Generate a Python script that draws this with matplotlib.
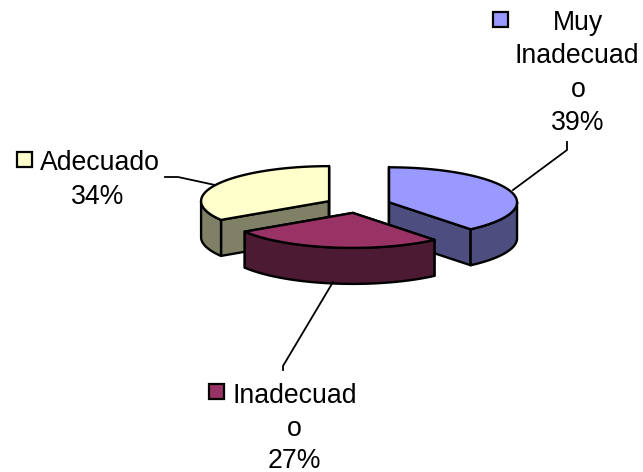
import numpy as np
import matplotlib
matplotlib.use("Agg")
from matplotlib import pyplot as plt
from matplotlib.patches import Polygon, Rectangle

labels = ["Muy Inadecuado", "Inadecuado", "Adecuado"]
values = [39, 27, 34]
top_colors = ["#9999FF", "#993366", "#FFFFCC"]
side_colors = ["#4D4D80", "#4D1A33", "#808066"]

# pie geometry, in pixels of the figure
cx, cy = 358, 205
rx, ry = 128, 35
depth = 36
ex, ey = 33, 8

plt.rcParams["font.family"] = ["Liberation Sans", "DejaVu Sans"]

fig = plt.figure(figsize=(6.43, 4.72), dpi=100)
ax = fig.add_axes([0, 0, 1, 1])
ax.set_xlim(0, 643)
ax.set_ylim(472, 0)
ax.axis("off")


def rim(x0, y0, a, b):
    # angles clockwise from 12 o'clock
    t = np.radians(np.linspace(a, b, 80))
    return np.column_stack([x0 + rx * np.sin(t), y0 - ry * np.cos(t)])


def draw_slice(a, b, top, side):
    mid = np.radians((a + b) / 2)
    x0 = cx + ex * np.sin(mid)
    y0 = cy - ey * np.cos(mid)
    lw = 1.7
    # the two cut walls
    for ang in (a, b):
        p = rim(x0, y0, ang, ang)[0]
        wall = [(x0, y0), p, (p[0], p[1] + depth), (x0, y0 + depth)]
        ax.add_patch(Polygon(wall, fc=side, ec="black", lw=lw, joinstyle="round"))
    # outer wall, only the part facing the viewer
    fa, fb = max(a, 90), min(b, 270)
    if fa < fb:
        r = rim(x0, y0, fa, fb)
        low = r[::-1] + [0, depth]
        ax.add_patch(Polygon(np.vstack([r, low]), fc=side, ec="black", lw=lw, joinstyle="round"))
    # top face
    r = rim(x0, y0, a, b)
    ax.add_patch(Polygon(np.vstack([[(x0, y0)], r]), fc=top, ec="black", lw=lw, joinstyle="round"))


edges = np.cumsum([0] + values) / sum(values) * 360
for i in [2, 0, 1]:
    draw_slice(edges[i], edges[i + 1], top_colors[i], side_colors[i])

# leader lines
ax.plot([567, 567, 513], [142, 150, 190], color="black", lw=1.3)
ax.plot([165, 178, 215], [177, 177, 185], color="black", lw=1.3)
ax.plot([333, 283, 283], [282, 366, 370], color="black", lw=1.3)

# legend keys
for x, y, c in [(493, 12, top_colors[0]), (209, 384, top_colors[1]), (17, 152, top_colors[2])]:
    ax.add_patch(Rectangle((x, y), 14.5, 14.5, fc=c, ec="black", lw=1.6))

# data labels, wrapped as in the original
fs = 19.2
for x, y, s in [(578, 30, "Muy"), (577, 63, "Inadecuad"), (578, 97, "o"), (578, 130, "39%"),
                (100, 170, "Adecuado"), (98, 204, "34%"),
                (295, 403, "Inadecuad"), (294, 436, "o"), (294, 467.5, "27%")]:
    ax.text(x, y, s, fontsize=fs, ha="center", va="baseline", color="black")

fig.savefig("out.png", dpi=100)
